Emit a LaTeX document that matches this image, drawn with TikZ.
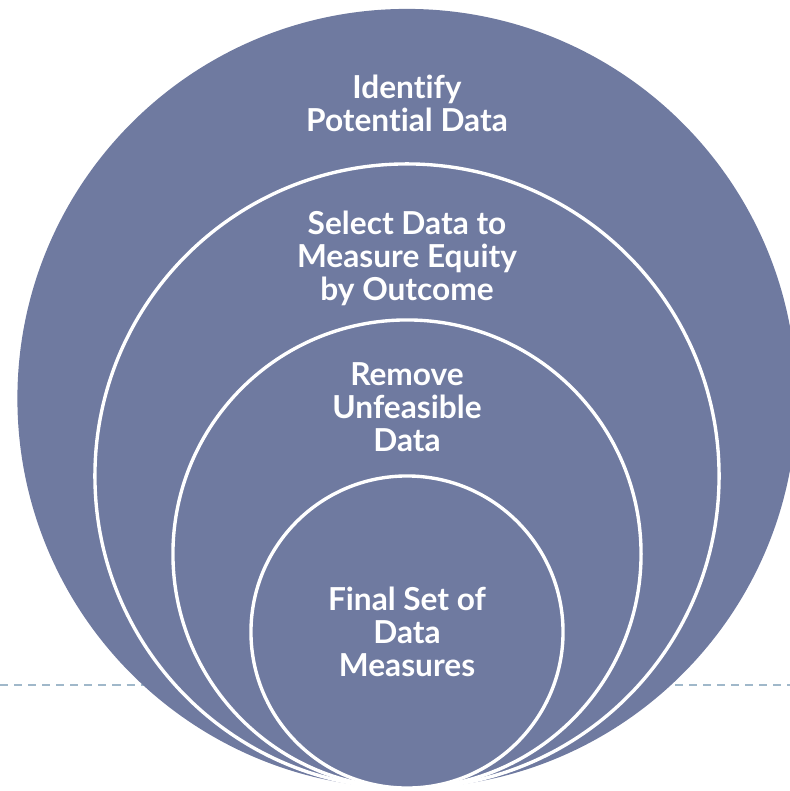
\documentclass[tikz,border=0pt]{standalone}
\usepackage{fontspec}
\setmainfont{Lato}[Ligatures=NoCommon]
\usetikzlibrary{positioning}
\definecolor{slateblue}{HTML}{6F7AA0}
\definecolor{rulegrey}{HTML}{A0B8CA}
\newcommand{\stagefont}{\fontsize{22.5}{23.5}\selectfont\bfseries}

\begin{document}
\begin{tikzpicture}[x=0.025cm,y=-0.025cm,
  disc/.style={circle,fill=slateblue,inner sep=0pt},
  ring/.style={disc,draw=white,line width=2.4pt},
  stagetext/.style={text=white,align=center,font=\stagefont}]
\useasboundingbox (0,0) rectangle (790,791);
% dashed rule, mostly hidden behind the circles
\coordinate (rl) at (0,685);
\coordinate (rr) at (790,685);
\draw[rulegrey,line width=1.4pt,dash pattern=on 5.7pt off 4.3pt] (rl) -- (rr);
%
\node (c1) [disc,minimum size=19.475cm] at (407,398.5) {};
\node (c2) [ring,minimum size=15.6cm] at (407,476) {};
\node (c3) [ring,minimum size=11.7cm] at (407,554) {};
\node (c4) [ring,minimum size=7.8cm] at (407,632) {};
%
\node (t1) [stagetext] at (407,103) {Identify\\Potential Data};
\node (t2) [stagetext] at (407,258) {Select Data to\\Measure Equity\\by Outcome};
\node (t3) [stagetext] at (407,407) {Remove\\Unfeasible\\Data};
\node (t4) [stagetext] at (407,632) {Final Set of\\Data\\Measures};
\end{tikzpicture}
\end{document}
